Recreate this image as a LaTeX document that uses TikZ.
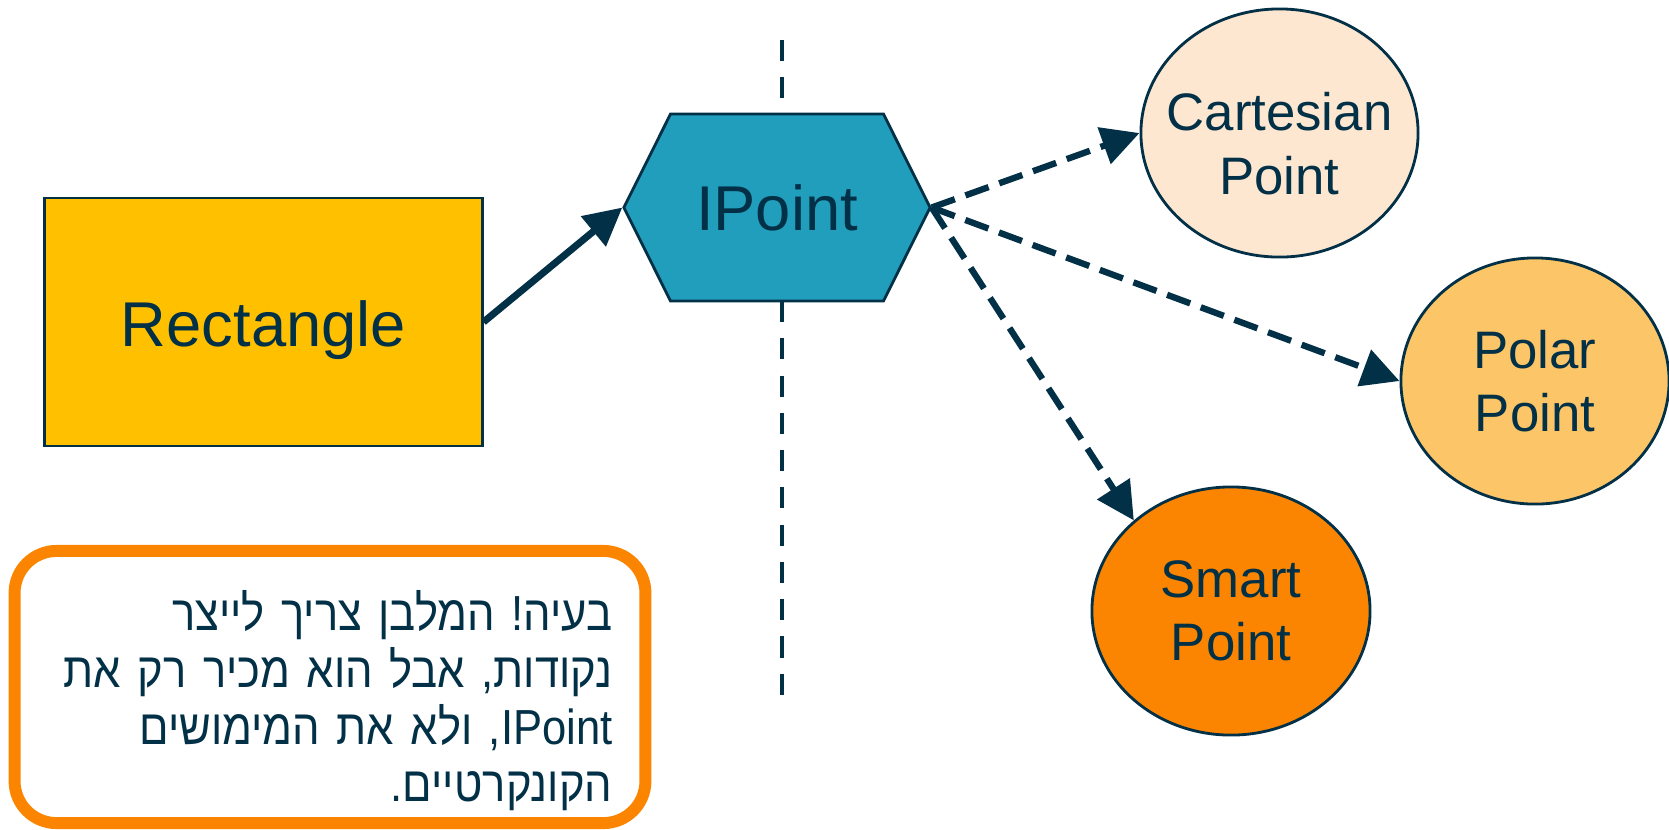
\documentclass[tikz,border=0pt]{standalone}
\usepackage{fontspec}
\setmainfont{Liberation Sans}
\newfontfamily\hebfont[Script=Hebrew,FakeStretch=0.885]{Liberation Sans}
\TeXXeTstate=1
\frenchspacing
\usepackage{xcolor}
\usepackage{tikz}
\usetikzlibrary{arrows.meta,shapes.geometric,shapes.symbols}

\definecolor{navy}{HTML}{023047}
\definecolor{gold}{HTML}{FFC000}
\definecolor{teal}{HTML}{219EBC}
\definecolor{peach}{HTML}{FDE7D1}
\definecolor{sand}{HTML}{FCC567}
\definecolor{tangerine}{HTML}{FB8500}

% one right-to-left line, flush right
\newcommand\hebline[1]{\hbox to\hsize{\hss\beginR#1\endR}}

\tikzset{
	shape border/.style={draw=navy,line width=0.8pt,text=navy},
	oval/.style={shape border,ellipse,align=center,inner xsep=-6pt,inner ysep=0pt,
		minimum width=2.77cm,minimum height=2.48cm,font=\fontsize{15}{18}\selectfont},
	tip/.style={-{Triangle[length=10.7pt,width=10.7pt]}},
	uses/.style={tip,navy,line width=2pt},
	implements/.style={tip,navy,line width=1.8pt,dash pattern=on 7pt off 3.2pt},
}

\begin{document}
\begin{tikzpicture}[x=0.01cm,y=-0.01cm]
		\useasboundingbox (0,0) rectangle (1669,829);
		% boundary between client and implementations
		\coordinate (top) at (782,40);
		\coordinate (bottom) at (782,697);
		\draw[navy,line width=1.4pt,dash pattern=on 6pt off 4.6pt] (top) -- (bottom);

		\node[shape border,fill=gold,minimum width=4.37cm,minimum height=2.48cm,
			text height=14pt,text depth=0pt,font=\fontsize{18}{21}\selectfont] (rect) at (263.5,322) {Rectangle};
		\node[shape border,fill=teal,signal,signal to=east and west,signal pointer angle=127,
			minimum width=3.06cm,minimum height=1.87cm,inner sep=0pt,
			font=\fontsize{18}{21}\selectfont] (ipoint) at (777,207.5) {IPoint};

		\node[oval,fill=peach,text height=35pt] (cart) at (1279.5,133) {Cartesian\\Point};
		\node[oval,fill=sand,minimum width=2.68cm,minimum height=2.46cm] (polar) at (1535,381) {Polar\\Point};
		\node[oval,fill=tangerine,minimum width=2.78cm] (smart) at (1231,611) {Smart\\Point};

		\draw[uses] (rect.east) -- (ipoint.west);
		\draw[implements] (ipoint.east) -- (cart.west);
		\draw[implements] (ipoint.east) -- (polar.west);
		\draw[implements] (ipoint.east) -- (smart.137);

		% the problem, in Hebrew
		\node[draw=tangerine,line width=3.4pt,rounded corners=0.42cm,fill=white,text=navy,
			minimum width=6.305cm,minimum height=2.72cm,inner xsep=0.33cm,text width=5.645cm,
			font=\hebfont\fontsize{14}{16.2}\selectfont] (note) at (330,687)
			{\hebline{\rule{0pt}{19.3pt}בעיה! המלבן צריך לייצר}
			\hebline{נקודות, אבל הוא מכיר רק את}
			\hebline{\beginL IPoint\endL, ולא את המימושים}
			\hebline{הקונקרטיים.}};
	\end{tikzpicture}
\end{document}
